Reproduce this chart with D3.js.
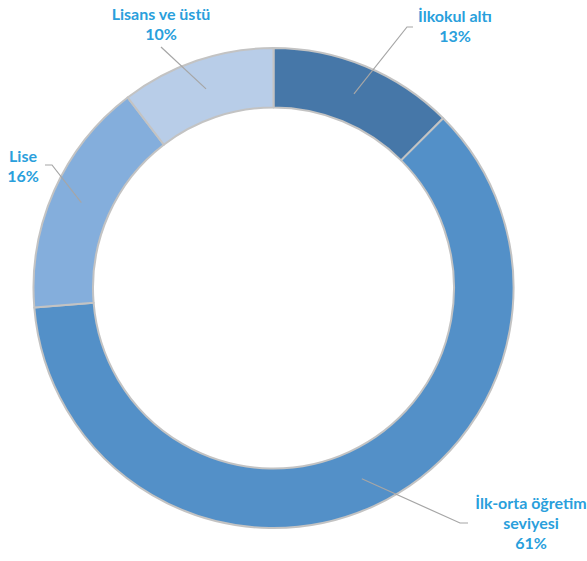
<!DOCTYPE html>
<html>
<head>
<meta charset="utf-8">
<script src="https://cdn.jsdelivr.net/npm/d3@7/dist/d3.min.js"></script>
<style>
  html, body { margin: 0; padding: 0; background: #fff; }
  svg { display: block; }
  .lbl { font-family: Lato, "Open Sans", sans-serif; font-weight: 700; font-size: 16px; fill: #2a9fdc; }
</style>
</head>
<body>
<svg id="chart" width="587" height="561"></svg>
<script>
// Education level shares (%); labels show them rounded to whole percents
const categories = ["İlkokul altı", "İlk-orta öğretim seviyesi", "Lise", "Lisans ve üstü"];
const shares = [12.5, 61.2, 15.9, 10.4];
const colors = ["#4677a8", "#5390c8", "#84aedc", "#b8cde8"];

// Label lines as printed (category text split into lines, then the percent)
const labelLines = [
  ["İlkokul altı"],
  ["İlk-orta öğretim", "seviyesi"],
  ["Lise"],
  ["Lisans ve üstü"]
];

const W = 587, H = 561;
const cx = 273.5, cy = 288;
const outerR = 240, innerR = 180.5;
const midR = (outerR + innerR) / 2;

// Label anchor (first baseline centre) and leader elbow for each slice
const labelLayout = [
  { x: 455, y: 22, elbow: [[407, 27], [413, 27]] },
  { x: 531, y: 509, elbow: [[460, 523], [468, 523]] },
  { x: 23, y: 162, elbow: [[52, 165], [45, 165]] },
  { x: 161, y: 20, elbow: [[161, 47]] }
];

const svg = d3.select("#chart");
const g = svg.append("g").attr("transform", `translate(${cx},${cy})`);

const pie = d3.pie().sort(null).value(d => d)(shares);
const arc = d3.arc().innerRadius(innerR).outerRadius(outerR);
const mid = d3.arc().innerRadius(midR).outerRadius(midR);

g.selectAll("path.slice")
  .data(pie)
  .join("path")
  .attr("class", "slice")
  .attr("d", arc)
  .attr("fill", (d, i) => colors[i])
  .attr("stroke", "#c3c3c3")
  .attr("stroke-width", 2)
  .attr("stroke-linejoin", "round");

// Leader lines from each slice centre to its label
const line = d3.line();
svg.selectAll("path.leader")
  .data(pie)
  .join("path")
  .attr("class", "leader")
  .attr("fill", "none")
  .attr("stroke", "#a6a6a6")
  .attr("stroke-width", 1.2)
  .attr("d", (d, i) => {
    const [mx, my] = mid.centroid(d);
    return line([[cx + mx, cy + my], ...labelLayout[i].elbow]);
  });

// Labels
pie.forEach((d, i) => {
  const L = labelLayout[i];
  const lines = [...labelLines[i], Math.round(shares[i]) + "%"];
  const t = svg.append("text").attr("class", "lbl").attr("text-anchor", "middle");
  lines.forEach((s, k) => {
    t.append("tspan").attr("x", L.x).attr("y", L.y + k * 20).text(s);
  });
});
</script>
</body>
</html>
